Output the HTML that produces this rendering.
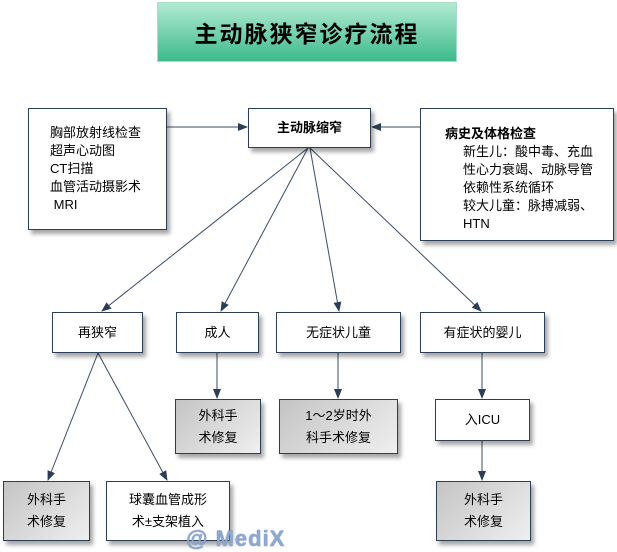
<!DOCTYPE html>
<html><head><meta charset="utf-8"><style>
body{margin:0;width:617px;height:550px;background:#fff;position:relative;overflow:hidden;font-family:"Liberation Sans","Noto Sans CJK SC",sans-serif;font-size:13px;color:#000}
.b{position:absolute;box-sizing:border-box;border:1.5px solid #2c3e55;background:#fff;box-shadow:3px 4px 4px rgba(0,0,0,0.35);display:flex;align-items:center;justify-content:center;text-align:center;line-height:22px}
.g{background:linear-gradient(135deg,#c4c4c4,#efefef)}
svg{position:absolute;left:0;top:0}
</style></head><body>
<div style="position:absolute;left:157px;top:2px;width:300px;height:60px;background:linear-gradient(#b2ead4,#3dba8c);border:1px solid #a8dcc4;box-sizing:border-box;display:flex;align-items:center;justify-content:center;font-size:23px;font-weight:bold;letter-spacing:2px">主动脉狭窄诊疗流程</div>
<svg width="617" height="550">
<defs><marker id="a" markerWidth="10" markerHeight="8" refX="9" refY="4" orient="auto" markerUnits="userSpaceOnUse"><path d="M0,0L10,4L0,8z" fill="#2c3e55"/></marker></defs>
<g stroke="#3a4d66" stroke-width="1" fill="none" marker-end="url(#a)">
<line x1="166" y1="127" x2="247" y2="127"/>
<line x1="420" y1="127" x2="372" y2="127"/>
<line x1="308" y1="148" x2="102" y2="311"/>
<line x1="308" y1="148" x2="221" y2="311"/>
<line x1="310" y1="148" x2="339" y2="311"/>
<line x1="310" y1="148" x2="481" y2="311"/>
<line x1="98" y1="353" x2="48" y2="480"/>
<line x1="98" y1="353" x2="167" y2="480"/>
<line x1="217" y1="353" x2="217" y2="398"/>
<line x1="338" y1="353" x2="338" y2="398"/>
<line x1="482" y1="353" x2="482" y2="398"/>
<line x1="482" y1="440" x2="482" y2="480"/>
</g></svg>
<div class="b" style="left:28px;top:108px;width:139px;height:122px;justify-content:flex-start;text-align:left;padding-left:21px;line-height:18px">胸部放射线检查<br>超声心动图<br>CT扫描<br>血管活动摄影术<br>&nbsp;MRI</div>
<div class="b" style="left:248px;top:108px;width:123px;height:40px;font-weight:bold">主动脉缩窄</div>
<div class="b" style="left:420px;top:108px;width:194px;height:133px;justify-content:flex-start;text-align:left;padding-left:24px;line-height:18px;align-items:flex-start;padding-top:16px"><div><b>病史及体格检查</b><div style="padding-left:18px">新生儿：酸中毒、充血<br>性心力衰竭、动脉导管<br>依赖性系统循环<br>较大儿童：脉搏减弱、<br>HTN</div></div></div>
<div class="b" style="left:52px;top:312px;width:91px;height:41px">再狭窄</div>
<div class="b" style="left:176px;top:312px;width:83px;height:41px">成人</div>
<div class="b" style="left:276px;top:312px;width:125px;height:41px">无症状儿童</div>
<div class="b" style="left:420px;top:312px;width:125px;height:41px">有症状的婴儿</div>
<div class="b g" style="left:175px;top:399px;width:86px;height:55px">外科手<br>术修复</div>
<div class="b g" style="left:279px;top:399px;width:119px;height:55px">1～2岁时外<br>科手术修复</div>
<div class="b" style="left:435px;top:399px;width:95px;height:42px">入ICU</div>
<div class="b g" style="left:3px;top:481px;width:87px;height:60px">外科手<br>术修复</div>
<div class="b" style="left:106px;top:481px;width:124px;height:60px">球囊血管成形<br>术±支架植入</div>
<div class="b g" style="left:436px;top:481px;width:95px;height:60px">外科手<br>术修复</div>
<div style="position:absolute;left:186px;top:526px;font-size:22px;font-weight:bold;color:#8fa8d0;letter-spacing:1px;text-shadow:0 0 1px #3b5a90">@ MediX</div>
</body></html>
